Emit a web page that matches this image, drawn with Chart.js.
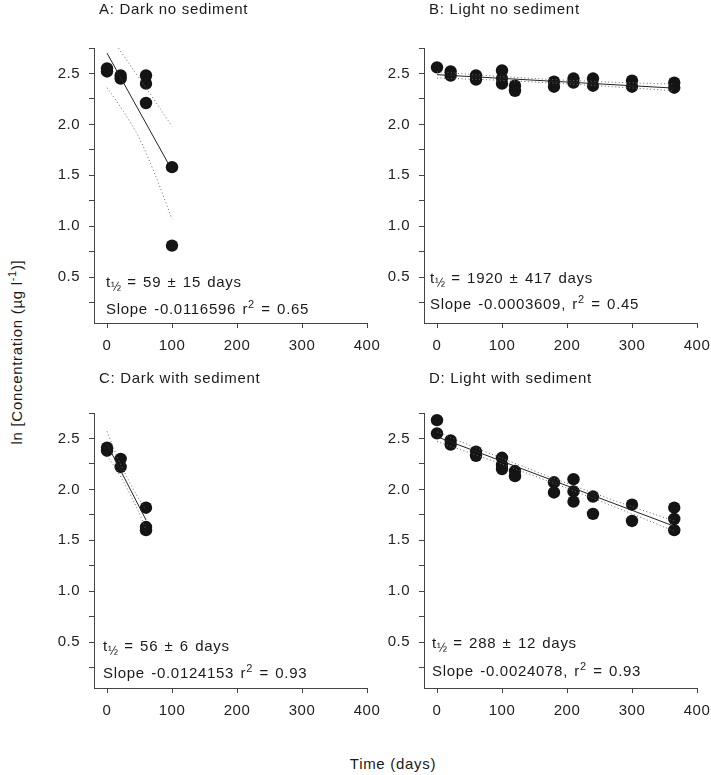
<!DOCTYPE html>
<html><head><meta charset="utf-8">
<script src="https://cdn.jsdelivr.net/npm/chart.js@4.4.1/dist/chart.umd.min.js"></script>
<style>
html,body{margin:0;padding:0;background:#fff;}
body{width:711px;height:775px;position:relative;overflow:hidden;font-family:"Liberation Sans",Arial,sans-serif;color:#1a1a1a;}
canvas{position:absolute;}
.t{position:absolute;font-size:15px;line-height:18px;white-space:nowrap;letter-spacing:0.7px;}
.ann{word-spacing:1.5px;}
sub{line-height:0;font-size:12px;vertical-align:-4px;letter-spacing:0;}
sup{line-height:0;font-size:11px;vertical-align:6px;}
.rot{transform:translate(-50%,-50%) rotate(-90deg);}
.ctr{transform:translate(-50%,-50%);}
</style></head><body>
<canvas id="cA" width="360" height="370" style="left:30px;top:0px;width:360px;height:370px"></canvas>
<canvas id="cB" width="370" height="370" style="left:360px;top:0px;width:370px;height:370px"></canvas>
<canvas id="cC" width="360" height="370" style="left:30px;top:365px;width:360px;height:370px"></canvas>
<canvas id="cD" width="370" height="370" style="left:360px;top:365px;width:370px;height:370px"></canvas>

<div class="t" style="left:99px;top:0px">A: Dark no sediment</div>
<div class="t" style="left:429px;top:0px">B: Light no sediment</div>
<div class="t" style="left:99px;top:369px">C: Dark with sediment</div>
<div class="t" style="left:429px;top:369px">D: Light with sediment</div>

<div class="t ann" style="left:106px;top:273px">t<sub>½</sub> = 59 ± 15 days</div>
<div class="t ann" style="left:106px;top:300px">Slope -0.0116596 r<sup>2</sup> = 0.65</div>
<div class="t ann" style="left:430px;top:269px">t<sub>½</sub> = 1920 ± 417 days</div>
<div class="t ann" style="left:430px;top:295px">Slope -0.0003609, r<sup>2</sup> = 0.45</div>
<div class="t ann" style="left:103px;top:637px">t<sub>½</sub> = 56 ± 6 days</div>
<div class="t ann" style="left:103px;top:664px">Slope -0.0124153 r<sup>2</sup> = 0.93</div>
<div class="t ann" style="left:432px;top:634px">t<sub>½</sub> = 288 ± 12 days</div>
<div class="t ann" style="left:432px;top:662px">Slope -0.0024078, r<sup>2</sup> = 0.93</div>

<div class="t rot" style="left:17px;top:352px">ln [Concentration (µg l<sup>-1</sup>)]</div>
<div class="t ctr" style="left:393px;top:764px">Time (days)</div>

<script>
// ---- axis ticks ----
const xTickValues = [0, 100, 200, 300, 400];
const xTickLabels = ['0', '100', '200', '300', '400'];
const yTickValues = [0.25, 0.5, 0.75, 1.0, 1.25, 1.5, 1.75, 2.0, 2.25, 2.5, 2.75];
const yTickLabels = ['', '0.5', '', '1.0', '', '1.5', '', '2.0', '', '2.5', ''];

// ---- A: Dark no sediment ----
const daysA = [0, 0, 21, 21, 60, 60, 60, 100, 100];
const concA = [2.52, 2.55, 2.45, 2.48, 2.48, 2.40, 2.21, 1.58, 0.81];
const fitDaysA = [0, 100];
const fitA = [2.70, 1.55];
const bandDaysA = [0, 25, 50, 75, 100];
const upperA = [2.92, 2.68, 2.45, 2.22, 1.98];
const lowerA = [2.36, 2.13, 1.86, 1.49, 1.07];

// ---- B: Light no sediment ----
const daysB = [0, 21, 21, 60, 60, 100, 100, 100, 120, 120, 180, 180, 210, 210, 240, 240, 300, 300, 365, 365];
const concB = [2.56, 2.52, 2.48, 2.48, 2.44, 2.53, 2.45, 2.40, 2.38, 2.33, 2.42, 2.37, 2.45, 2.41, 2.45, 2.38, 2.43, 2.37, 2.41, 2.36];
const fitDaysB = [0, 365];
const fitB = [2.488, 2.356];
const bandDaysB = [0, 90, 180, 270, 365];
const upperB = [2.515, 2.475, 2.44, 2.415, 2.395];
const lowerB = [2.455, 2.435, 2.405, 2.37, 2.33];

// ---- C: Dark with sediment ----
const daysC = [0, 0, 21, 21, 60, 60, 60];
const concC = [2.41, 2.38, 2.30, 2.22, 1.82, 1.63, 1.60];
const fitDaysC = [0, 60];
const fitC = [2.445, 1.70];
const bandDaysC = [0, 15, 30, 45, 60];
const upperC = [2.57, 2.33, 2.13, 1.95, 1.80];
const lowerC = [2.33, 2.19, 2.02, 1.83, 1.61];

// ---- D: Light with sediment ----
const daysD = [0, 0, 21, 21, 60, 60, 100, 100, 100, 120, 120, 180, 180, 210, 210, 210, 240, 240, 300, 300, 365, 365, 365];
const concD = [2.68, 2.55, 2.48, 2.44, 2.37, 2.33, 2.31, 2.24, 2.20, 2.18, 2.13, 2.07, 1.97, 2.10, 1.98, 1.88, 1.93, 1.76, 1.85, 1.69, 1.82, 1.71, 1.60];
const fitDaysD = [0, 365];
const fitD = [2.517, 1.638];
const bandDaysD = [0, 90, 180, 270, 365];
const upperD = [2.565, 2.33, 2.108, 1.897, 1.69];
const lowerD = [2.47, 2.27, 2.06, 1.837, 1.59];

Chart.defaults.font.family = '"Liberation Sans", Arial, sans-serif';
Chart.defaults.font.size = 15;
Chart.defaults.color = '#222';

const spacingPlugin = {
  id: 'spacing',
  beforeDraw(chart) { try { chart.ctx.letterSpacing = '0.5px'; } catch (e) {} }
};

const pairs = (xs, ys) => xs.map((x, i) => ({x: x, y: ys[i]}));

function panel(id, p, days, conc, fd, fv, bd, up, lo) {
  const axisColor = '#444';
  new Chart(document.getElementById(id), {
    type: 'scatter',
    plugins: [spacingPlugin],
    data: {
      datasets: [
        {data: pairs(bd, up), showLine: true, pointRadius: 0, borderColor: '#666', borderWidth: 1, borderDash: [1, 2.5], cubicInterpolationMode: 'monotone', tension: 0.3},
        {data: pairs(bd, lo), showLine: true, pointRadius: 0, borderColor: '#666', borderWidth: 1, borderDash: [1, 2.5], cubicInterpolationMode: 'monotone', tension: 0.3},
        {data: pairs(fd, fv), showLine: true, pointRadius: 0, borderColor: '#222', borderWidth: 1},
        {data: pairs(days, conc), showLine: false, pointRadius: 6.2, pointBackgroundColor: '#141414', pointBorderWidth: 0, borderColor: '#141414'}
      ]
    },
    options: {
      responsive: false, animation: false, events: [],
      layout: {padding: p},
      plugins: {legend: {display: false}, tooltip: {enabled: false}},
      scales: {
        x: {
          type: 'linear', min: -20, max: 400,
          afterBuildTicks: s => { s.ticks = xTickValues.map(v => ({value: v})); },
          afterFit: s => { s.height = 30; },
          ticks: {autoSkip: false, maxRotation: 0, padding: 9, color: '#222', callback: (v, i) => xTickLabels[i]},
          grid: {drawOnChartArea: false, drawTicks: true, tickLength: 5, color: axisColor},
          border: {display: true, color: axisColor, width: 1}
        },
        y: {
          type: 'linear', min: 0.05, max: 2.75,
          afterBuildTicks: s => { s.ticks = yTickValues.map(v => ({value: v})); },
          afterFit: s => { s.width = 50; },
          ticks: {autoSkip: false, padding: 9, color: '#222', callback: (v, i) => yTickLabels[i]},
          grid: {drawOnChartArea: false, drawTicks: true, tickLength: 5, color: axisColor},
          border: {display: true, color: axisColor, width: 1}
        }
      }
    }
  });
}

panel('cA', {left: 14, top: 48, right: 23, bottom: 17}, daysA, concA, fitDaysA, fitA, bandDaysA, upperA, lowerA);
panel('cB', {left: 14, top: 48, right: 33, bottom: 17}, daysB, concB, fitDaysB, fitB, bandDaysB, upperB, lowerB);
panel('cC', {left: 14, top: 48, right: 23, bottom: 17}, daysC, concC, fitDaysC, fitC, bandDaysC, upperC, lowerC);
panel('cD', {left: 14, top: 48, right: 33, bottom: 17}, daysD, concD, fitDaysD, fitD, bandDaysD, upperD, lowerD);
</script>
</body></html>
